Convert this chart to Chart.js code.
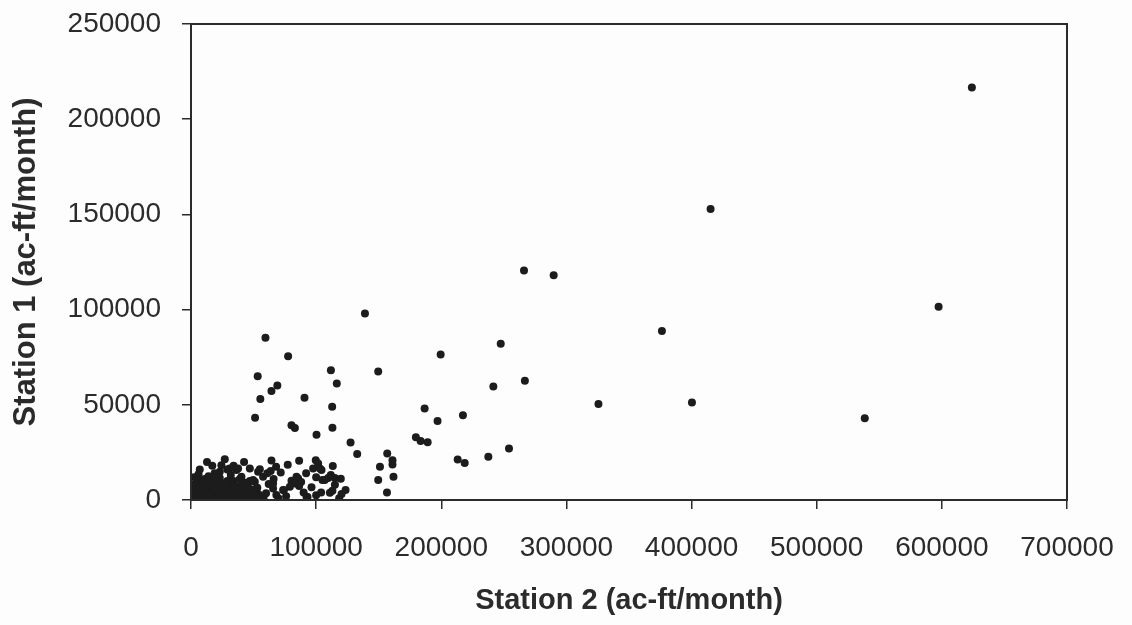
<!DOCTYPE html>
<html>
<head>
<meta charset="utf-8">
<script src="https://cdn.jsdelivr.net/npm/chart.js@4/dist/chart.umd.min.js"></script>
<style>
  html, body { margin: 0; padding: 0; background: #fdfdfd; }
  #wrap { width: 1132px; height: 625px; }
</style>
</head>
<body>
<div id="wrap"><canvas id="scatter"></canvas></div>
<script>
// Station 2 flow (x) and Station 1 flow (y), ac-ft/month
const station2 = [
  624000, 597400, 538400, 415200, 376300, 289800, 266100, 325600, 400300, 266800,
  247500, 241600, 199500, 139000, 149600, 186700, 217300, 197000, 179700, 183500,
  189100, 254100, 237600, 213100, 218700, 156800, 161000, 161000, 151000, 149600,
  161800, 156600,
  59500, 77600, 53300, 69000, 64300, 55400, 90700, 51200, 80300, 83000,
  100300, 111800, 116500, 112800, 113000, 127500, 132800,
  12800, 27000, 7000, 5000, 42400, 64300, 86400, 77300, 99700, 101600,
  113300, 97600, 104300, 71700, 55000, 63700, 111700, 105000, 109600, 114900,
  119700, 96300, 84300, 86400, 80300, 74200, 93100, 111000, 118400, 123500,
  62100, 57600, 65600, 51000, 45600, 40300, 36300, 30900, 23000, 19000,
  24300, 29000, 37600, 31800, 18900, 53600, 61000, 49600, 85600, 65600,
  83000, 79000, 113000, 120300, 92300, 73600, 68200, 103000, 106900,
  2000, 4000, 6000, 8000, 10000, 12000, 14000, 16000, 18000, 20000,
  22000, 24000, 26000, 28000, 30000, 32000, 34000, 36000, 38000, 40000,
  42000, 44000, 46000, 48000, 50000, 52000, 54000, 3000, 5000, 7000,
  9000, 11000, 13000, 15000, 17000, 19000, 21000, 23000, 25000, 27000,
  29000, 31000, 33000, 35000, 37000, 39000, 41000, 43000, 45000, 47000,
  1000, 1500, 2500, 6000, 10000, 14000, 20000, 3500, 9000, 16000,
  25000, 34000, 58000, 60000, 70000, 66000, 76000, 90000, 100000, 88000,
  104000, 115000, 100000, 92000, 68000, 47000, 34000, 17000,
  5500, 8500, 12500, 15500, 18500, 21500, 26500, 29500, 32500, 38500,
  41500, 44500, 49000, 53000, 56000, 11500, 22500, 27500, 35500, 43500
];
const station1 = [
  216700, 101500, 43000, 152800, 88750, 118000, 120500, 50400, 51250, 62600,
  82000, 59600, 76400, 98000, 67500, 48100, 44500, 41500, 33000, 31000,
  30300, 27000, 22700, 21300, 19400, 24400, 20900, 18700, 17400, 10500,
  12200, 4000,
  85200, 75500, 65000, 60100, 57200, 53000, 53700, 43200, 39200, 37800,
  34300, 68200, 61200, 49000, 38000, 30200, 24200,
  19900, 21400, 16000, 11100, 20000, 20700, 20600, 18500, 20900, 19200,
  17900, 16600, 15700, 14500, 16200, 15200, 13100, 10500, 11500, 11500,
  11100, 6700, 12200, 7300, 10100, 5100, 1600, 3800, 900, 5200,
  8400, 12200, 6100, 9600, 7000, 12200, 15700, 16600, 14800, 13100,
  18300, 16000, 16600, 13100, 14000, 14800, 14000, 10500, 11300, 8700,
  8700, 7000, 4900, 3100, 1700, 5200, 2600, 16600, 10500,
  1000, 3000, 500, 2500, 5000, 1500, 7000, 3500, 800, 6000,
  2000, 9000, 4000, 1200, 7500, 3000, 10000, 5500, 1800, 8000,
  3500, 600, 4500, 2000, 5500, 1000, 3000, 7000, 9000, 4500,
  8000, 11000, 3000, 10000, 6000, 9500, 4000, 11500, 6500, 2500,
  10000, 5000, 800, 7500, 2500, 11000, 5000, 9000, 1500, 10000,
  4000, 8000, 12000, 13500, 9500, 12500, 10500, 200, 300, 600,
  400, 1500, 1000, 3500, 800, 11000, 2000, 4000, 2500, 9500,
  4000, 8000, 12000, 14000, 17500, 16500, 18000, 18000,
  5500, 1200, 5800, 2200, 4800, 1000, 8200, 4500, 1600, 5000,
  2800, 7000, 3600, 6400, 2000, 6200, 3800, 5200, 3200, 2400
];
const xTicks = [0, 100000, 200000, 300000, 400000, 500000, 600000, 700000];
const yTicks = [0, 50000, 100000, 150000, 200000, 250000];

const points = station2.map((x, i) => ({ x: x, y: station1[i] }));

const ink = '#2b2b2b';

// frame around the plot area (top and right edges)
const frame = {
  id: 'frame',
  afterDraw(chart) {
    const a = chart.chartArea;
    const ctx = chart.ctx;
    ctx.save();
    ctx.strokeStyle = ink;
    ctx.lineWidth = 2;
    ctx.strokeRect(a.left, a.top, a.right - a.left, a.bottom - a.top);
    ctx.restore();
  }
};

new Chart(document.getElementById('scatter'), {
  type: 'scatter',
  data: {
    datasets: [{
      data: points,
      pointRadius: 4,
      pointBackgroundColor: '#1c1c1c',
      pointBorderWidth: 0
    }]
  },
  options: {
    responsive: true,
    maintainAspectRatio: false,
    animation: false,
    layout: { padding: { left: 0, top: 24, right: 65, bottom: 0 } },
    plugins: { legend: { display: false }, tooltip: { enabled: false } },
    scales: {
      x: {
        type: 'linear',
        min: 0,
        max: 700000,
        afterFit: s => {
          s.height = 125;
          s.paddingLeft = 0;
          s.paddingRight = 0;
        },
        afterBuildTicks: s => { s.ticks = xTicks.map(v => ({ value: v })); },
        grid: { drawOnChartArea: false, tickLength: 9, color: ink, lineWidth: 1.5 },
        border: { color: ink, width: 2 },
        ticks: {
          color: ink,
          padding: 22,
          maxRotation: 0,
          font: { family: 'Liberation Sans', size: 28 },
          callback: v => String(v)
        },
        title: {
          display: true,
          text: 'Station 2 (ac-ft/month)',
          color: ink,
          padding: { top: 0, bottom: 7 },
          font: { family: 'Liberation Sans', size: 29, weight: 'bold' }
        }
      },
      y: {
        type: 'linear',
        min: 0,
        max: 250000,
        afterFit: s => {
          s.width = 191;
          s.paddingTop = 0;
          s.paddingBottom = 0;
        },
        afterBuildTicks: s => { s.ticks = yTicks.map(v => ({ value: v })); },
        grid: { drawOnChartArea: false, tickLength: 9, color: ink, lineWidth: 1.5 },
        border: { color: ink, width: 2 },
        ticks: {
          color: ink,
          padding: 21,
          font: { family: 'Liberation Sans', size: 28 },
          callback: v => String(v)
        },
        title: {
          display: true,
          text: 'Station 1 (ac-ft/month)',
          color: ink,
          padding: { top: 8, bottom: 0 },
          font: { family: 'Liberation Sans', size: 31, weight: 'bold' }
        }
      }
    }
  },
  plugins: [frame]
});
</script>
</body>
</html>
